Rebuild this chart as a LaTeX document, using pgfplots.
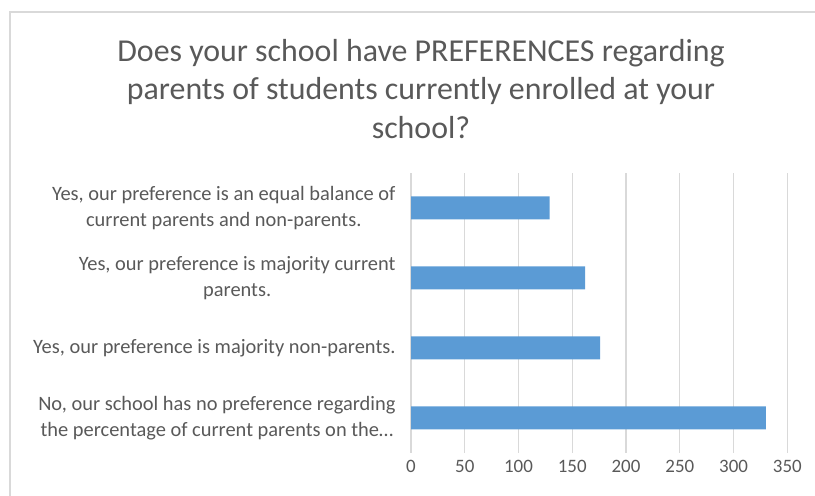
\documentclass[border=0pt]{standalone}
\usepackage{fontspec}
\setmainfont{Carlito}
\usepackage{pgfplots}
\pgfplotsset{compat=1.18}
\definecolor{barblue}{HTML}{5B9BD5}
\definecolor{txtgray}{HTML}{595959}
\definecolor{gridgray}{HTML}{D9D9D9}
\begin{document}
\begin{tikzpicture}[x=1bp,y=1bp]
\path[use as bounding box] (0,0) rectangle (815,496);
\draw[gridgray, line width=1.2bp] (10,0) -- (10,484) -- (815,484);
\node[align=center, text=txtgray, font=\fontsize{32}{39}\selectfont] at (421,407)
  {Does your school have PREFERENCES regarding\\parents of students currently enrolled at your\\school?};
\begin{axis}[
  at={(411bp,43bp)}, anchor=south west, scale only axis,
  width=376.3bp, height=280bp,
  xmin=0, xmax=350, ymin=-0.5, ymax=3.5,
  xbar, bar width=23bp,
  xtick={0,50,...,350}, ytick={0,1,2,3},
  yticklabels={
    {No, our school has no preference regarding\\the percentage of current parents on the…},
    {Yes, our preference is majority non-parents.},
    {Yes, our preference is majority current\\parents.},
    {Yes, our preference is an equal balance of\\current parents and non-parents.}},
  axis line style={draw=none}, major tick length=0pt,
  xmajorgrids, grid style={gridgray, line width=1.2bp},
  /pgf/number format/assume math mode=true,
  xticklabel style={font=\fontsize{19}{22}\selectfont, text=txtgray, yshift=-4bp},
  yticklabel style={font=\fontsize{20.5}{26}\selectfont, text=txtgray, align=center, xshift=-12bp},
]
\addplot[fill=barblue, draw=none] coordinates {(330,0) (176,1) (162,2) (129,3)};
\end{axis}
\end{tikzpicture}
\end{document}
